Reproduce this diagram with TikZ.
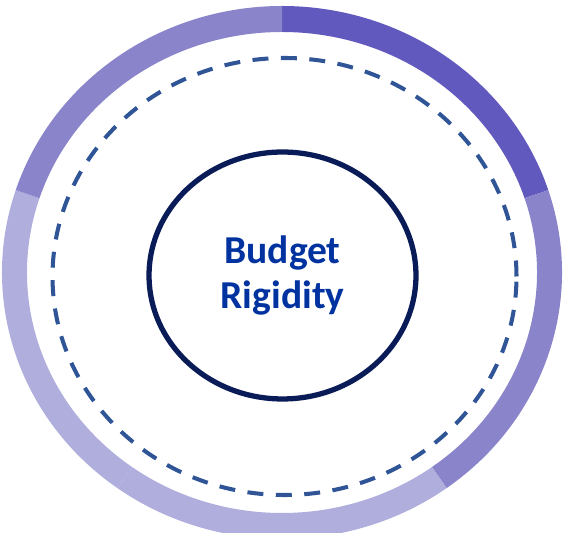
\documentclass[tikz,border=0pt]{standalone}
\usepackage{fontspec}
\setmainfont{Carlito}
\usepackage{xcolor}
\usetikzlibrary{shapes.geometric}

\definecolor{ringdark}{HTML}{6159BD}
\definecolor{ringmid}{HTML}{8A84CA}
\definecolor{ringlight}{HTML}{B0AEDD}
\definecolor{guideblue}{HTML}{2F5597}
\definecolor{corenavy}{HTML}{0A1C58}
\definecolor{labelblue}{HTML}{0033A0}

\begin{document}
\begin{tikzpicture}[
    x=0.02cm, y=0.02cm,
    guide/.style={draw=guideblue, line width=2.3pt, dash pattern=on 9.1pt off 7.1pt},
    core/.style={ellipse, draw=corenavy, line width=3pt, minimum width=5.34cm,
        minimum height=4.94cm, inner sep=0pt, align=center,
        font=\fontsize{22.5}{25.6}\selectfont\bfseries, text=labelblue}
]
    \useasboundingbox (0,0) rectangle (564,533);
    \clip (0,0) rectangle (564,533);

    % outer ring, five segments
    \begin{scope}[shift={(282,260.5)}]
        \foreach \a/\b/\c in {90/18/ringdark, 18/-54/ringmid, -54/-126/ringlight,
                              -126/-198/ringlight, -198/-270/ringmid}
            \fill[\c] (\a:280 and 266.5)
                arc[start angle=\a, end angle=\b, x radius=280, y radius=266.5]
                -- (\b:255 and 240.5)
                arc[start angle=\b, end angle=\a, x radius=255, y radius=240.5]
                -- cycle;
    \end{scope}

    \draw[guide] (284.5,256.5) ellipse [x radius=232, y radius=218.5];

    \node[core] (rigidity) at (282.5,257.5) {Budget\\Rigidity};
\end{tikzpicture}
\end{document}
